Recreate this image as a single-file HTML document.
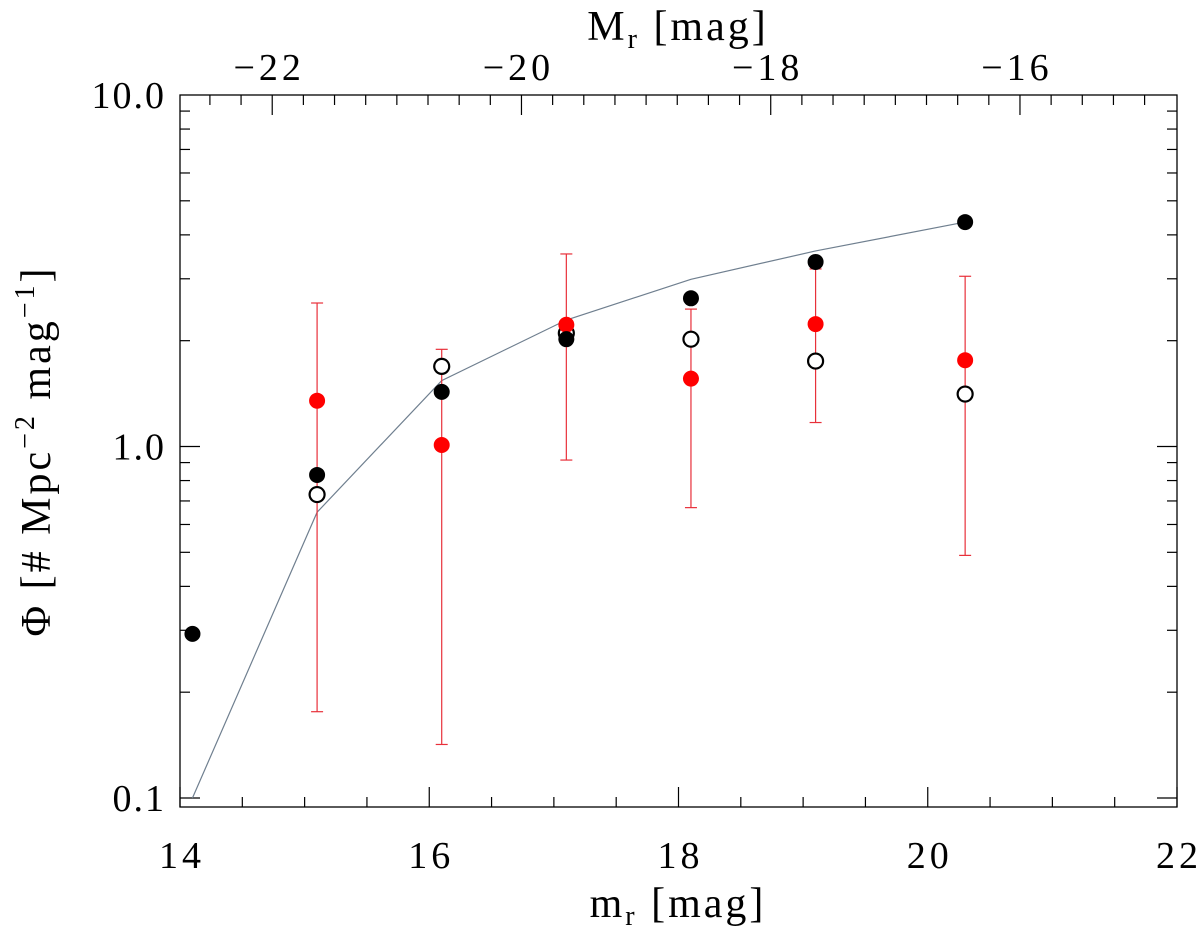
<!DOCTYPE html>
<html><head><meta charset="utf-8"><style>
html,body{margin:0;padding:0;background:#fff;width:1200px;height:930px;overflow:hidden}
svg{display:block}
text{font-family:"Liberation Serif",serif;fill:#000}
</style></head><body>
<svg id="chart" width="1200" height="930" viewBox="0 0 1200 930" xmlns="http://www.w3.org/2000/svg">
<g id="axes"></g>
<g id="marks"></g>
<text x="678" y="917" font-size="42" letter-spacing="3" text-anchor="middle">m<tspan font-size="28" dy="8">r</tspan><tspan dy="-8"> [mag]</tspan></text>
<text x="678" y="40" font-size="42" letter-spacing="3" text-anchor="middle">M<tspan font-size="28" dy="8">r</tspan><tspan dy="-8"> [mag]</tspan></text>
<text transform="translate(50,451) rotate(-90)" font-size="42" letter-spacing="3" text-anchor="middle">Φ [# Mpc<tspan font-size="28" dy="-16">−2</tspan><tspan dy="16"> mag</tspan><tspan font-size="28" dy="-16">−1</tspan><tspan dy="16">]</tspan></text>
</svg>
<script>
const xPos = [14.1, 15.1, 16.1, 17.1, 18.1, 19.1, 20.3];
const totalFilled = [0.293, 0.83, 1.43, 2.02, 2.64, 3.35, 4.35];
const openX = [15.1, 16.1, 17.1, 18.1, 19.1, 20.3];
const openVals = [0.73, 1.69, 2.10, 2.02, 1.75, 1.41];
const redX = [15.1, 16.1, 17.1, 18.1, 19.1, 20.3];
const redVals = [1.35, 1.01, 2.22, 1.56, 2.23, 1.76];
const redUpper = [2.56, 1.89, 3.53, 2.46, 3.2, 3.05];
const redLower = [0.176, 0.142, 0.915, 0.67, 1.17, 0.49];
const modelVals = [0.1, 0.65, 1.54, 2.29, 2.99, 3.6, 4.35];
const xTicks = [14, 16, 18, 20, 22];
const topTicks = [-22, -20, -18, -16];
const yTickLabels = ["0.1", "1.0", "10.0"];
const yTickVals = [0.1, 1, 10];

const NS = "http://www.w3.org/2000/svg";
const L = 180, R = 1177, T = 95, B = 807;
const X = m => L + (m - 14) * (R - L) / 8;
const Y = v => 446.5 - Math.log10(v) * 351.5;
const OFF = 36.74;
function mk(tag, attrs, parent) {
  const e = document.createElementNS(NS, tag);
  for (const k in attrs) e.setAttribute(k, attrs[k]);
  parent.appendChild(e);
  return e;
}
const ax = document.getElementById('axes');
const mg = document.getElementById('marks');
const frame = mk('rect', {x: L, y: T, width: R - L, height: B - T, fill: 'none', stroke: '#000', 'stroke-width': 1.3}, ax);


for (let m = 14; m <= 22.001; m += 0.5) {
  const major = Math.abs(m - Math.round(m / 2) * 2) < 1e-6;
  const len = major ? 20 : 10;
  const t = mk('line', {x1: X(m), x2: X(m), y1: B, y2: B - len, stroke: '#000', 'stroke-width': 1.2}, ax);
  
  
}
xTicks.forEach(m => {
  const t = mk('text', {x: X(m) + 2, y: 868, 'font-size': 38, 'letter-spacing': 4, 'text-anchor': 'middle'}, ax);
  t.textContent = m;
  
  
});
for (let M = -22.5; M <= -14.9; M += 0.25) {
  const x = X(M + OFF);
  if (x < L + 1 || x > R - 1) continue;
  const major = Math.abs(M - Math.round(M / 2) * 2) < 1e-6;
  const t = mk('line', {x1: x, x2: x, y1: T, y2: T + (major ? 20 : 10), stroke: '#000', 'stroke-width': 1.2}, ax);
  
  
}
topTicks.forEach(M => {
  const t = mk('text', {x: X(M + OFF) - 3, y: 80, 'font-size': 38, 'letter-spacing': 4, 'text-anchor': 'middle'}, ax);
  t.textContent = '−' + Math.abs(M);
  
  
});
[0.1, 1].forEach(d => {
  for (let k = 1; k <= 9; k++) {
    const v = d * k;
    const major = k === 1;
    const y = Y(v);
    const len = major ? 20 : 10;
    const a = mk('line', {x1: L, x2: L + len, y1: y, y2: y, stroke: '#000', 'stroke-width': 1.2}, ax);
    
    
    const b = mk('line', {x1: R, x2: R - len, y1: y, y2: y, stroke: '#000', 'stroke-width': 1.2}, ax);
    
    
  }
});
yTickVals.forEach((v, i) => {
  const t = mk('text', {x: 166, y: Y(v) + 13, 'font-size': 38, 'letter-spacing': 2, 'text-anchor': 'end'}, ax);
  t.textContent = yTickLabels[i];
  
  
});
const pl = mk('polyline', {points: xPos.map((m, i) => X(m) + ',' + Y(modelVals[i])).join(' '), fill: 'none', stroke: '#6f7f8f', 'stroke-width': 1.2}, mg);


redX.forEach((m, i) => {
  const x = X(m);
  const g = mk('g', {stroke: '#e8303a', 'stroke-width': 1.2}, mg);
  
  
  mk('line', {x1: x, x2: x, y1: Y(redUpper[i]), y2: Y(redLower[i])}, g);
  mk('line', {x1: x - 6, x2: x + 6, y1: Y(redUpper[i]), y2: Y(redUpper[i])}, g);
  mk('line', {x1: x - 6, x2: x + 6, y1: Y(redLower[i]), y2: Y(redLower[i])}, g);
});
openX.forEach((m, i) => {
  const c = mk('circle', {cx: X(m), cy: Y(openVals[i]), r: 7.5, fill: '#fff', stroke: '#000', 'stroke-width': 2.2}, mg);
  
  
});
redX.forEach((m, i) => {
  const c = mk('circle', {cx: X(m), cy: Y(redVals[i]), r: 8, fill: '#ff0000'}, mg);
  
  
});
xPos.forEach((m, i) => {
  const c = mk('circle', {cx: X(m), cy: Y(totalFilled[i]), r: 8, fill: '#000'}, mg);
  
  
});
</script>
</body></html>
